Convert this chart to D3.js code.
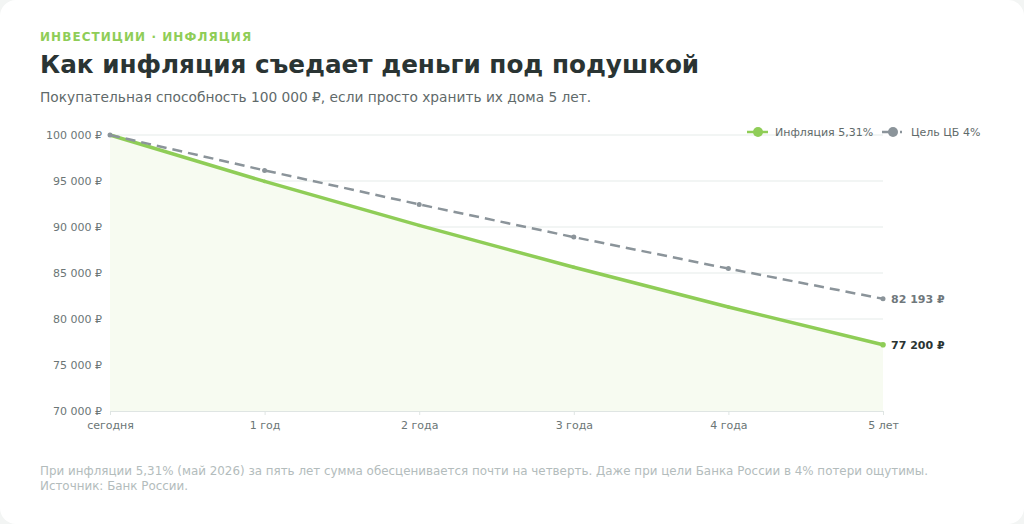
<!DOCTYPE html>
<html><head><meta charset="utf-8">
<script src="https://cdn.jsdelivr.net/npm/d3@7/dist/d3.min.js"></script>
<style>
html,body{margin:0;padding:0;background:#f3f5f4;}
body{width:1024px;height:524px;overflow:hidden;font-family:"DejaVu Sans",sans-serif;}
</style></head>
<body>
<svg id="chart" width="1024" height="524"></svg>
<script>
const categories = ["сегодня","1 год","2 года","3 года","4 года","5 лет"];
const inflationValues = [100000, 94958, 90170, 85624, 81307, 77200];
const targetValues = [100000, 96154, 92456, 88900, 85480, 82193];
const yTicks = [70000, 75000, 80000, 85000, 90000, 95000, 100000];
const seriesNames = ["Инфляция 5,31%", "Цель ЦБ 4%"];
const endLabels = ["77 200 ₽", "82 193 ₽"];

const green = "#8fcd57", gray = "#8b949a";
const svg = d3.select("#chart");
svg.append("rect").attr("x",0).attr("y",0).attr("width",1024).attr("height",524).attr("rx",16).attr("fill","#ffffff");

svg.append("text").attr("x",40).attr("y",41).text("ИНВЕСТИЦИИ · ИНФЛЯЦИЯ")
  .attr("fill",green).attr("font-size",12).attr("font-weight","bold").attr("letter-spacing",1.05);
svg.append("text").attr("x",40).attr("y",73).text("Как инфляция съедает деньги под подушкой")
  .attr("fill","#2a3433").attr("font-size",24.7).attr("font-weight","bold");
svg.append("text").attr("x",40).attr("y",102).text("Покупательная способность 100 000 ₽, если просто хранить их дома 5 лет.")
  .attr("fill","#5f6a6a").attr("font-size",13.75);

const x = d3.scalePoint().domain(categories).range([110,883]);
const y = d3.scaleLinear().domain([70000,100000]).range([411,135]);
const fmt = v => d3.format(",")(v).replace(/,/g," ") + " ₽";

const g = svg.append("g");
g.selectAll(".grid").data(yTicks.filter(t=>t>70000)).join("line")
  .attr("x1",110).attr("x2",883).attr("y1",d=>y(d)).attr("y2",d=>y(d))
  .attr("stroke","#e5ebe9").attr("stroke-width",1);

const area = d3.area().x((d,i)=>x(categories[i])).y0(y(70000)).y1(d=>y(d));
g.append("path").datum(inflationValues).attr("d",area).attr("fill","#f7fbf1");

const yAxis = d3.axisLeft(y).tickValues(yTicks).tickFormat(fmt).tickSize(0).tickPadding(8);
const ya = g.append("g").attr("transform","translate(110,0)").call(yAxis);
ya.select(".domain").remove();
ya.selectAll("text").attr("fill","#6b7676").attr("font-size",11).attr("font-family","DejaVu Sans");

const xAxis = d3.axisBottom(x).tickSize(4).tickPadding(6);
const xa = g.append("g").attr("transform","translate(0,411)").call(xAxis);
xa.select(".domain").attr("stroke","#dfe5e3");
xa.selectAll(".tick line").attr("stroke","#dfe5e3");
xa.selectAll("text").attr("fill","#6b7676").attr("font-size",11).attr("font-family","DejaVu Sans");

const line = d3.line().x((d,i)=>x(categories[i])).y(d=>y(d));
g.append("path").datum(inflationValues).attr("d",line).attr("fill","none")
  .attr("stroke",green).attr("stroke-width",3.5);
g.selectAll(".idot").data(inflationValues).join("circle")
  .attr("cx",(d,i)=>x(categories[i])).attr("cy",d=>y(d)).attr("r",(d,i)=>i===5?2.8:1.8).attr("fill",green);
g.append("path").datum(targetValues).attr("d",line).attr("fill","none")
  .attr("stroke",gray).attr("stroke-width",2.5).attr("stroke-dasharray","10,6");
g.selectAll(".tdot").data(targetValues).join("circle")
  .attr("cx",(d,i)=>x(categories[i])).attr("cy",d=>y(d)).attr("r",2.5).attr("fill",gray);

g.append("text").attr("x",891).attr("y",y(inflationValues[5])+4).text(endLabels[0])
  .attr("fill","#2a3433").attr("font-size",11).attr("font-weight","bold");
g.append("text").attr("x",891).attr("y",y(targetValues[5])+4).text(endLabels[1])
  .attr("fill","#6f787c").attr("font-size",11).attr("font-weight","bold");

const lg = svg.append("g");
lg.append("line").attr("x1",747).attr("x2",768).attr("y1",132).attr("y2",132).attr("stroke",green).attr("stroke-width",2.5);
lg.append("circle").attr("cx",758).attr("cy",132).attr("r",5).attr("fill",green);
lg.append("text").attr("x",775).attr("y",136).text(seriesNames[0]).attr("fill","#5f6a6a").attr("font-size",11);
lg.append("line").attr("x1",882).attr("x2",905).attr("y1",132).attr("y2",132).attr("stroke",gray).attr("stroke-width",2.5).attr("stroke-dasharray","14,4,2,10");
lg.append("circle").attr("cx",893).attr("cy",132).attr("r",5).attr("fill",gray);
lg.append("text").attr("x",911).attr("y",136).text(seriesNames[1]).attr("fill","#5f6a6a").attr("font-size",11);

svg.append("text").attr("x",40).attr("y",475).text("При инфляции 5,31% (май 2026) за пять лет сумма обесценивается почти на четверть. Даже при цели Банка России в 4% потери ощутимы.")
  .attr("fill","#b3bcbc").attr("font-size",11.9);
svg.append("text").attr("x",40).attr("y",490).text("Источник: Банк России.")
  .attr("fill","#b3bcbc").attr("font-size",11.9);
</script>
</body></html>
